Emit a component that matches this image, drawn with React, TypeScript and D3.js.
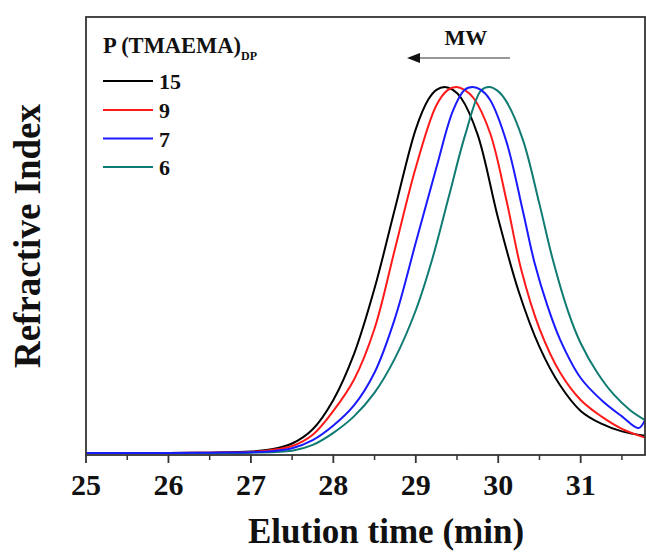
import React from "react";
import * as d3 from "d3";

const blackT = [25, 26, 26.5, 27, 27.25, 27.5, 27.75, 28, 28.25, 28.5, 28.75, 29, 29.15, 29.25, 29.35, 29.45, 29.55, 29.75, 30, 30.25, 30.5, 30.75, 31, 31.25, 31.5, 31.78];
const blackV = [0, 0, 0.001, 0.004, 0.01, 0.026, 0.065, 0.145, 0.27, 0.45, 0.67, 0.885, 0.965, 0.992, 1.0, 0.992, 0.97, 0.87, 0.64, 0.44, 0.29, 0.185, 0.115, 0.08, 0.059, 0.047];

const redT = [25, 26, 26.5, 27, 27.25, 27.5, 27.75, 28, 28.25, 28.5, 28.75, 29, 29.25, 29.39, 29.49, 29.59, 29.7, 29.9, 30.1, 30.28, 30.5, 30.75, 31, 31.25, 31.5, 31.78];
const redV = [0, 0, 0.001, 0.003, 0.008, 0.019, 0.05, 0.115, 0.2, 0.34, 0.56, 0.78, 0.95, 0.992, 1.0, 0.992, 0.97, 0.875, 0.69, 0.5, 0.34, 0.22, 0.145, 0.1, 0.066, 0.042];

const blueT = [25, 26, 26.5, 27, 27.25, 27.5, 27.75, 28, 28.25, 28.5, 28.75, 29, 29.25, 29.45, 29.59, 29.69, 29.79, 29.9, 30.1, 30.3, 30.44, 30.6, 30.75, 31, 31.25, 31.5, 31.7, 31.78];
const blueV = [0, 0, 0.001, 0.002, 0.005, 0.013, 0.035, 0.075, 0.13, 0.22, 0.37, 0.575, 0.78, 0.935, 0.992, 1.0, 0.992, 0.965, 0.85, 0.66, 0.52, 0.4, 0.31, 0.205, 0.145, 0.1, 0.068, 0.09];

const tealT = [25, 26, 26.5, 27, 27.5, 27.75, 28, 28.25, 28.5, 28.75, 29, 29.2, 29.4, 29.6, 29.79, 29.89, 29.99, 30.1, 30.3, 30.5, 30.66, 30.85, 31, 31.2, 31.4, 31.6, 31.78];
const tealV = [0, 0, 0, 0.001, 0.006, 0.022, 0.055, 0.1, 0.165, 0.26, 0.39, 0.53, 0.7, 0.87, 0.99, 1.0, 0.99, 0.96, 0.855, 0.68, 0.53, 0.385, 0.3, 0.22, 0.16, 0.117, 0.09];

const legendLabels = ["15", "9", "7", "6"];
const seriesColors = ["#000000", "#ff1a1a", "#1a1aff", "#0f7b72"];
const xTicks = [25, 26, 27, 28, 29, 30, 31];
const xMinorTicks = [25.5, 26.5, 27.5, 28.5, 29.5, 30.5, 31.5];

const FONT = "'Liberation Serif', 'Times New Roman', serif";

export default function App() {
  const W = 646, H = 553;
  const left = 86, right = 645, top = 17, bottom = 455;
  const x = d3.scaleLinear().domain([25, 31.78]).range([left, right]);
  const y = d3.scaleLinear().domain([0, 1]).range([453, 87]);

  const series = [
    { t: blackT, v: blackV, color: seriesColors[0] },
    { t: redT, v: redV, color: seriesColors[1] },
    { t: tealT, v: tealV, color: seriesColors[3] },
    { t: blueT, v: blueV, color: seriesColors[2] },
  ];

  const line = d3
    .line<[number, number]>()
    .x((d) => x(d[0]))
    .y((d) => y(d[1]))
    .curve(d3.curveCatmullRom.alpha(0.5));

  const legendY = [81, 110, 138.5, 167];

  return (
    <svg
      width={W}
      height={H}
      style={{ position: "absolute", left: 0, top: 0, background: "#fff" }}
      fontFamily={FONT}
    >
      <defs>
        <clipPath id="plotclip">
          <rect x={left} y={top} width={right - left} height={bottom - top} />
        </clipPath>
      </defs>
      <rect x={0} y={0} width={W} height={H} fill="#fff" />

      <g clipPath="url(#plotclip)">
        {series.map((s, i) => (
          <path
            key={i}
            d={line(s.t.map((t, j) => [t, s.v[j]] as [number, number])) || ""}
            fill="none"
            stroke={s.color}
            strokeWidth={2}
          />
        ))}
      </g>

      {/* frame */}
      <rect
        x={left}
        y={top}
        width={right - left}
        height={bottom - top}
        fill="none"
        stroke="#333"
        strokeWidth={1.8}
      />

      {/* x ticks */}
      {xTicks.map((t) => (
        <g key={t}>
          <line x1={x(t)} x2={x(t)} y1={bottom} y2={bottom + 8} stroke="#333" strokeWidth={1.8} />
          <text x={x(t)} y={495} textAnchor="middle" fontSize={30} fontWeight="bold" fill="#111">
            {t}
          </text>
        </g>
      ))}
      {xMinorTicks.map((t) => (
        <line key={t} x1={x(t)} x2={x(t)} y1={bottom} y2={bottom + 5} stroke="#333" strokeWidth={1.5} />
      ))}

      {/* axis titles */}
      <text x={386} y={543} textAnchor="middle" fontSize={35} fontWeight="bold" fill="#111">
        Elution time (min)
      </text>
      <text
        transform={`translate(40, 236) rotate(-90)`}
        textAnchor="middle"
        fontSize={37}
        fontWeight="bold"
        fill="#111"
      >
        Refractive Index
      </text>

      {/* legend */}
      <text x={103} y={53} fontSize={22.5} fontWeight="bold" fill="#111">
        P (TMAEMA)
        <tspan fontSize={12} dy={7}>DP</tspan>
      </text>
      {legendLabels.map((lab, i) => (
        <g key={lab}>
          <line x1={103} x2={153} y1={legendY[i]} y2={legendY[i]} stroke={seriesColors[i]} strokeWidth={2} />
          <text x={159} y={legendY[i] + 8} fontSize={22} fontWeight="bold" fill="#111">
            {lab}
          </text>
        </g>
      ))}

      {/* MW arrow */}
      <text x={466} y={45} textAnchor="middle" fontSize={22} fontWeight="bold" fill="#111">
        MW
      </text>
      <line x1={510} x2={418} y1={58} y2={58} stroke="#333" strokeWidth={1.2} />
      <path d="M407,58 L420,53 L420,63 Z" fill="#111" />
    </svg>
  );
}
